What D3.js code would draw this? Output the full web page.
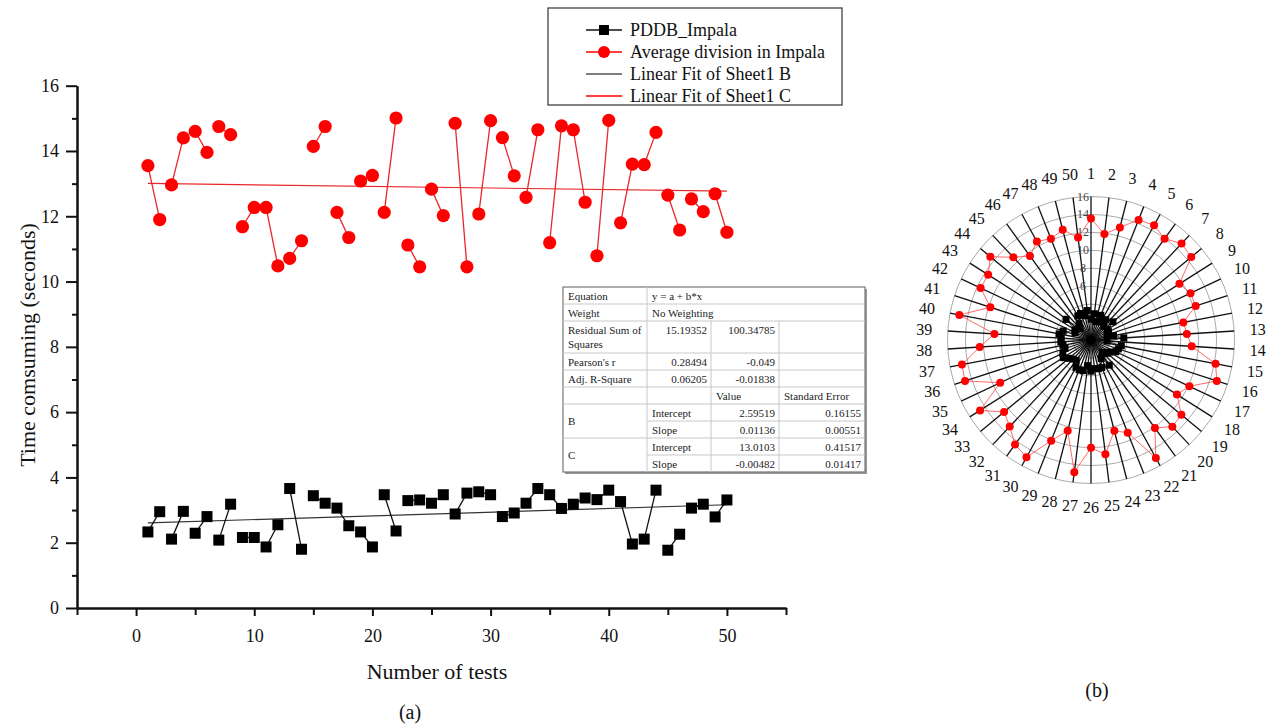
<!DOCTYPE html>
<html>
  <head>
    <title>PDDB vs Impala</title>
    <meta charset="utf-8">
    <script src="https://d3js.org/d3.v7.min.js"></script>
    <style>
      body { margin: 0; background: #fff; }
      text { font-family: "Liberation Serif", "Times New Roman", serif; }
    </style>
  </head>
  <body>
  <script>

    // test number on x axis, 1..50
    var tests = d3.range(1, 51);

    var pddb = [2.33, 2.95, 2.11, 2.96, 2.29, 2.80, 2.08, 3.18, 2.16, 2.16,
                1.87, 2.55, 3.66, 1.80, 3.44, 3.21, 3.06, 2.52, 2.33, 1.87,
                3.47, 2.36, 3.29, 3.31, 3.21, 3.47, 2.88, 3.52, 3.56, 3.47,
                2.80, 2.91, 3.21, 3.66, 3.47, 3.05, 3.18, 3.37, 3.32, 3.61,
                3.26, 1.96, 2.11, 3.61, 1.77, 2.26, 3.06, 3.18, 2.79, 3.31];

    var avgDiv = [13.55, 11.90, 12.96, 14.40, 14.60, 13.96, 14.75, 14.50, 11.68, 12.27,
                  12.27, 10.48, 10.71, 11.25, 14.14, 14.75, 12.12, 11.35, 13.08, 13.25,
                  12.12, 15.01, 11.12, 10.45, 12.83, 12.02, 14.85, 10.45, 12.07, 14.93,
                  14.41, 13.24, 12.58, 14.65, 11.19, 14.77, 14.65, 12.43, 10.79, 14.94,
                  11.80, 13.60, 13.58, 14.57, 12.65, 11.58, 12.53, 12.14, 12.69, 11.51];

    // linear fits (from the table)
    var fitB = {a: 2.59519, b: 0.01136};
    var fitC = {a: 13.0103, b: -0.00482};

    var yTicks = [0, 2, 4, 6, 8, 10, 12, 14, 16];
    var yMinor = [1, 3, 5, 7, 9, 11, 13, 15];
    var xTicks = [0, 10, 20, 30, 40, 50];
    var xMinor = [-5, 5, 15, 25, 35, 45, 55];

    var legendLabels = ["PDDB_Impala", "Average division in Impala", "Linear Fit of Sheet1 B", "Linear Fit of Sheet1 C"];

    var tableRows = [
      ["Equation", "y = a + b*x"],
      ["Weight", "No Weighting"],
      ["Residual Sum of|Squares", "15.19352", "100.34785", ""],
      ["Pearson's r", "0.28494", "-0.049", ""],
      ["Adj. R-Square", "0.06205", "-0.01838", ""],
      ["", "", "Value", "Standard Error"],
      ["B", "Intercept", "2.59519", "0.16155"],
      ["", "Slope", "0.01136", "0.00551"],
      ["C", "Intercept", "13.0103", "0.41517"],
      ["", "Slope", "-0.00482", "0.01417"]
    ];

    var rings = [2, 4, 6, 8, 10, 12, 14, 16];
    var ringLabels = [6, 8, 10, 12, 14, 16];

    var W = 1276, H = 726;
    var svg = d3.select("body").append("svg")
      .attr("width", W).attr("height", H);

    // ---------- (a) ----------
    var x = d3.scaleLinear().domain([-5, 55]).range([77, 786]);
    var y = d3.scaleLinear().domain([0, 16]).range([608, 85.7]);

    svg.append("g").attr("transform", "translate(0," + y(0) + ")")
      .call(d3.axisBottom(x).tickValues(xTicks).tickSize(8).tickPadding(13).tickSizeOuter(0));
    svg.append("g").attr("transform", "translate(0," + y(0) + ")")
      .call(d3.axisBottom(x).tickValues(xMinor).tickSize(7).tickFormat("").tickSizeOuter(0));
    svg.append("g").attr("transform", "translate(" + x(-5) + ",0)")
      .call(d3.axisLeft(y).tickValues(yTicks).tickSize(11).tickPadding(7).tickSizeOuter(0));
    svg.append("g").attr("transform", "translate(" + x(-5) + ",0)")
      .call(d3.axisLeft(y).tickValues(yMinor).tickSize(5).tickFormat("").tickSizeOuter(0));

    svg.selectAll(".domain, .tick line").attr("stroke", "#111").attr("stroke-width", 2);
    svg.selectAll(".tick text").style("font-size", "18px")
      .style("font-family", '"Liberation Serif", serif').style("fill", "#111");

    svg.append("text")
      .attr("transform", "translate(27,345) rotate(-90)")
      .attr("text-anchor", "middle").attr("dominant-baseline", "central")
      .style("font-size", "22px").style("fill", "#111").text("Time comsuming (seconds)");
    svg.append("text").attr("x", 437).attr("y", 679)
      .attr("text-anchor", "middle").style("font-size", "22px").style("fill", "#111").text("Number of tests");
    svg.append("text").attr("x", 410).attr("y", 719)
      .attr("text-anchor", "middle").style("font-size", "20px").style("fill", "#111").text("(a)");

    // fit lines
    function fitLine(f, color) {
      svg.append("line")
        .attr("x1", x(1)).attr("y1", y(f.a + f.b * 1))
        .attr("x2", x(50)).attr("y2", y(f.a + f.b * 50))
        .attr("stroke", color).attr("stroke-width", 1.2);
    }
    fitLine(fitB, "#333");
    fitLine(fitC, "#e8272a");

    // connecting segments only between pairs (1-2, 3-4, ...)
    function pairs(vals, color) {
      var segs = d3.range(0, vals.length, 2);
      svg.append("g").selectAll("line").data(segs).enter().append("line")
        .attr("x1", function(i) { return x(tests[i]); })
        .attr("y1", function(i) { return y(vals[i]); })
        .attr("x2", function(i) { return x(tests[i + 1]); })
        .attr("y2", function(i) { return y(vals[i + 1]); })
        .attr("stroke", color).attr("stroke-width", 1.3);
    }
    pairs(pddb, "#111");
    pairs(avgDiv, "#e8272a");

    svg.append("g").selectAll("rect").data(pddb).enter().append("rect")
      .attr("x", function(d, i) { return x(tests[i]) - 5.5; })
      .attr("y", function(d) { return y(d) - 5.5; })
      .attr("width", 11).attr("height", 11).attr("fill", "#000");

    svg.append("g").selectAll("circle").data(avgDiv).enter().append("circle")
      .attr("cx", function(d, i) { return x(tests[i]); })
      .attr("cy", function(d) { return y(d); })
      .attr("r", 6.6).attr("fill", "#f00");

    // legend
    var lg = svg.append("g");
    lg.append("rect").attr("x", 548).attr("y", 8).attr("width", 294).attr("height", 97)
      .attr("fill", "#fff").attr("stroke", "#333").attr("stroke-width", 1.2);
    var ly = [30, 52, 74, 96];
    var lcol = ["#111", "#f00", "#555", "#f00"];
    legendLabels.forEach(function(t, i) {
      lg.append("line").attr("x1", 586).attr("x2", 622).attr("y1", ly[i]).attr("y2", ly[i])
        .attr("stroke", lcol[i]).attr("stroke-width", 1.3);
      if (i === 0) lg.append("rect").attr("x", 599).attr("y", ly[i] - 5).attr("width", 10).attr("height", 10).attr("fill", "#000");
      if (i === 1) lg.append("circle").attr("cx", 604).attr("cy", ly[i]).attr("r", 6).attr("fill", "#f00");
      lg.append("text").attr("x", 630).attr("y", ly[i]).attr("dominant-baseline", "central")
        .style("font-size", "18px").style("fill", "#111").text(t);
    });

    // table
    var colX = [563, 647, 711, 779, 865];
    var rowY = [287, 304, 321, 353, 370, 387, 404, 421, 438, 455, 472];
    var tg = svg.append("g");
    tg.append("rect").attr("x", colX[0] + 2).attr("y", rowY[0] + 2)
      .attr("width", colX[4] - colX[0]).attr("height", rowY[10] - rowY[0])
      .attr("fill", "#999");
    tg.append("rect").attr("x", colX[0]).attr("y", rowY[0])
      .attr("width", colX[4] - colX[0]).attr("height", rowY[10] - rowY[0])
      .attr("fill", "#fff").attr("stroke", "#777").attr("stroke-width", 1.2);
    var lineC = "#c8c8c8";
    // horizontal lines
    rowY.slice(1, 10).forEach(function(ry, i) {
      var r = i + 1;
      var x0 = (r === 7 || r === 9) ? colX[1] : colX[0];
      tg.append("line").attr("x1", x0).attr("x2", colX[4]).attr("y1", ry).attr("y2", ry).attr("stroke", lineC);
    });
    // vertical lines
    tg.append("line").attr("x1", colX[1]).attr("x2", colX[1]).attr("y1", rowY[0]).attr("y2", rowY[10]).attr("stroke", lineC);
    [2, 3].forEach(function(c) {
      tg.append("line").attr("x1", colX[c]).attr("x2", colX[c]).attr("y1", rowY[2]).attr("y2", rowY[10]).attr("stroke", lineC);
    });
    tableRows.forEach(function(row, r) {
      var ty = rowY[r] + 9;
      row.forEach(function(cell, c) {
        if (!cell) return;
        var lines = cell.split("|");
        var numeric = /^-?[0-9.]+$/.test(cell);
        var cy = ty;
        if (c === 0 && (cell === "B" || cell === "C")) cy = rowY[r + 1];
        lines.forEach(function(l, k) {
          tg.append("text")
            .attr("x", numeric ? colX[c + 1] - 4 : colX[c] + 5)
            .attr("y", cy + k * 14)
            .attr("text-anchor", numeric ? "end" : "start")
            .attr("dominant-baseline", "central")
            .style("font-size", "11px").style("fill", "#222").text(l);
        });
      });
    });

    // ---------- (b) polar ----------
    var cx = 1091, cy = 340, R = 143.5;
    var rr = d3.scaleLinear().domain([0, 16]).range([0, R]);
    var ang = d3.scaleLinear().domain([1, 51]).range([0, 2 * Math.PI]);
    var pg = svg.append("g").attr("transform", "translate(" + cx + "," + cy + ")");

    pg.selectAll(".ring").data(rings).enter().append("circle")
      .attr("r", function(d) { return rr(d); })
      .attr("fill", "none").attr("stroke", "#aaa").attr("stroke-width", 1);

    pg.selectAll(".spoke").data(tests).enter().append("line")
      .attr("x1", 0).attr("y1", 0)
      .attr("x2", function(d) { return R * Math.sin(ang(d)); })
      .attr("y2", function(d) { return -R * Math.cos(ang(d)); })
      .attr("stroke", "#111").attr("stroke-width", 1.3);

    pg.selectAll(".rl").data(ringLabels).enter().append("text")
      .attr("x", -8).attr("y", function(d) { return -rr(d); })
      .attr("text-anchor", "middle").attr("dominant-baseline", "central")
      .style("font-size", "12px").style("fill", "#444").text(function(d) { return d; });

    pg.selectAll(".al").data(tests).enter().append("text")
      .attr("x", function(d) { return 167 * Math.sin(ang(d)); })
      .attr("y", function(d) { return -167 * Math.cos(ang(d)); })
      .attr("text-anchor", "middle").attr("dominant-baseline", "central")
      .style("font-size", "16px").style("fill", "#111").text(function(d) { return d; });

    var radial = d3.lineRadial()
      .angle(function(d, i) { return ang(tests[i]); })
      .radius(function(d) { return rr(d); })
      .curve(d3.curveLinearClosed);

    pg.append("path").attr("d", radial(avgDiv)).attr("fill", "none")
      .attr("stroke", "#f44").attr("stroke-width", 0.8);
    pg.append("path").attr("d", radial(pddb)).attr("fill", "none")
      .attr("stroke", "#111").attr("stroke-width", 0.8);

    pg.selectAll(".pb").data(pddb).enter().append("rect")
      .attr("x", function(d, i) { return rr(d) * Math.sin(ang(tests[i])) - 3.5; })
      .attr("y", function(d, i) { return -rr(d) * Math.cos(ang(tests[i])) - 3.5; })
      .attr("width", 7).attr("height", 7).attr("fill", "#000");

    pg.selectAll(".pr").data(avgDiv).enter().append("circle")
      .attr("cx", function(d, i) { return rr(d) * Math.sin(ang(tests[i])); })
      .attr("cy", function(d, i) { return -rr(d) * Math.cos(ang(tests[i])); })
      .attr("r", 4).attr("fill", "#f00");

    pg.append("circle").attr("r", 5).attr("fill", "#000");

    svg.append("text").attr("x", 1097).attr("y", 697)
      .attr("text-anchor", "middle").style("font-size", "20px").style("fill", "#111").text("(b)");

  </script>
  </body>
</html>
